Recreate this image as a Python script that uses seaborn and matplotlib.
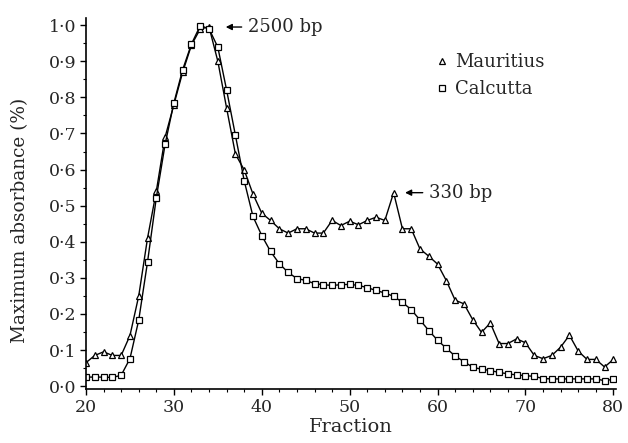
import numpy as np
import pandas as pd
import matplotlib
matplotlib.use("Agg")
import matplotlib.pyplot as plt
from matplotlib.lines import Line2D
import seaborn as sns

fractions = list(range(20, 81))

mauritius = [0.065, 0.085, 0.095, 0.085, 0.085, 0.14, 0.25, 0.41, 0.54, 0.69,
             0.78, 0.87, 0.945, 0.99, 0.995, 0.90, 0.77, 0.643, 0.599, 0.532,
             0.479, 0.459, 0.436, 0.424, 0.436, 0.436, 0.424, 0.424, 0.459, 0.445,
             0.457, 0.447, 0.459, 0.468, 0.459, 0.536, 0.436, 0.436, 0.38, 0.36,
             0.338, 0.292, 0.238, 0.228, 0.184, 0.149, 0.175, 0.118, 0.118, 0.131,
             0.12, 0.085, 0.076, 0.085, 0.108, 0.141, 0.097, 0.074, 0.074, 0.053,
             0.074]

calcutta = [0.025, 0.025, 0.025, 0.024, 0.03, 0.076, 0.183, 0.344, 0.522, 0.67,
            0.785, 0.877, 0.948, 0.999, 0.99, 0.939, 0.82, 0.695, 0.569, 0.47,
            0.417, 0.373, 0.339, 0.315, 0.298, 0.293, 0.284, 0.281, 0.279, 0.281,
            0.282, 0.279, 0.273, 0.265, 0.258, 0.249, 0.232, 0.212, 0.183, 0.154,
            0.127, 0.105, 0.083, 0.068, 0.052, 0.047, 0.043, 0.038, 0.034, 0.031,
            0.029, 0.027, 0.021, 0.02, 0.02, 0.02, 0.02, 0.02, 0.02, 0.015,
            0.019]

series_names = ["Mauritius", "Calcutta"]
series_markers = ["^", "s"]

y_ticks = [0.0, 0.1, 0.2, 0.3, 0.4, 0.5, 0.6, 0.7, 0.8, 0.9, 1.0]
y_ticklabels = ["0\u00b70", "0\u00b71", "0\u00b72", "0\u00b73", "0\u00b74", "0\u00b75",
                "0\u00b76", "0\u00b77", "0\u00b78", "0\u00b79", "1\u00b70"]
x_ticks = [20, 30, 40, 50, 60, 70, 80]

annotations = [("2500 bp", 34, 0.995), ("330 bp", 55, 0.536)]

sns.set_theme(style="ticks")
plt.rcParams["font.family"] = ["DejaVu Serif", "Liberation Serif"]

df = pd.DataFrame({
    "Fraction": fractions * 2,
    "value": mauritius + calcutta,
    "series": [series_names[0]] * len(fractions) + [series_names[1]] * len(fractions),
})

fig = plt.figure(figsize=(6.28, 4.43), dpi=100)
ax = fig.add_axes([86 / 628, (443 - 389) / 443, (616 - 86) / 628, (389 - 18) / 443])

for name, mk in zip(series_names, series_markers):
    sns.lineplot(data=df[df["series"] == name], x="Fraction", y="value", ax=ax,
                 color="black", linewidth=1.0, marker=mk, markersize=5,
                 markerfacecolor="white", markeredgecolor="black",
                 markeredgewidth=0.9, legend=False)

ax.set_xlim(20, 80.3)
ax.set_ylim(-0.008, 1.02)
ax.set_xticks(x_ticks)
ax.set_xticklabels([str(t) for t in x_ticks], fontsize=12.5)
ax.set_xticks(np.arange(20, 81, 2), minor=True)
ax.set_yticks(y_ticks)
ax.set_yticklabels(y_ticklabels, fontsize=12.5)
ax.set_yticks(np.arange(0.05, 1.0, 0.1), minor=True)
ax.tick_params(axis="both", which="major", length=4, width=1, color="black", pad=3)
ax.tick_params(axis="both", which="minor", length=2, width=0.8, color="black")
ax.set_xlabel("Fraction", fontsize=14, labelpad=2)
ax.set_ylabel("Maximum absorbance (%)", fontsize=13.3)
ax.yaxis.set_label_coords(-0.108, 0.455)
for s in ["top", "right"]:
    ax.spines[s].set_visible(False)
for s in ["left", "bottom"]:
    ax.spines[s].set_color("black")
    ax.spines[s].set_linewidth(1.2)

# annotations with arrows
ax.annotate(annotations[0][0], xy=(35.9, annotations[0][2]), xytext=(38.4, annotations[0][2]),
            ha="left", va="center", fontsize=13,
            arrowprops=dict(arrowstyle="-|>", color="black", lw=1.0, shrinkA=2, shrinkB=0,
                            mutation_scale=9))
ax.annotate(annotations[1][0], xy=(56.3, annotations[1][2]), xytext=(59.0, annotations[1][2]),
            ha="left", va="center", fontsize=13,
            arrowprops=dict(arrowstyle="-|>", color="black", lw=1.0, shrinkA=2, shrinkB=0,
                            mutation_scale=9))

handles = [Line2D([], [], linestyle="none", marker="^", markersize=4, markerfacecolor="white",
                  markeredgecolor="black", markeredgewidth=0.9),
           Line2D([], [], linestyle="none", marker="s", markersize=4, markerfacecolor="white",
                  markeredgecolor="black", markeredgewidth=0.9)]
ax.legend(handles, series_names, loc="upper left", bbox_to_anchor=(0.645, 0.93),
          frameon=False, fontsize=13, handlelength=0.6, handletextpad=0.4,
          labelspacing=0.5, borderpad=0)

fig.savefig("out.png", dpi=100)
